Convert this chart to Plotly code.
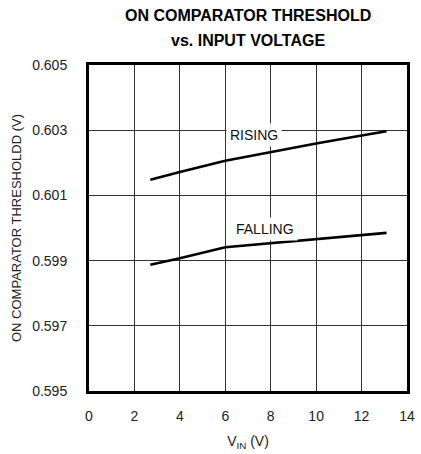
import plotly.graph_objects as go

# Input voltage sample points (V)
vin = [2.7, 4, 6, 8, 10, 12, 13.1]
# ON comparator threshold, rising and falling (V)
rising = [0.60148, 0.60172, 0.60206, 0.60233, 0.60259, 0.60284, 0.60297]
falling = [0.59887, 0.59907, 0.59941, 0.59953, 0.59966, 0.59977, 0.59985]

x_ticks = [0, 2, 4, 6, 8, 10, 12, 14]
y_ticks = [0.595, 0.597, 0.599, 0.601, 0.603, 0.605]
title_lines = ["ON COMPARATOR THRESHOLD", "vs. INPUT VOLTAGE"]

font_family = "Liberation Sans, Arial, sans-serif"

fig = go.Figure()
for ys in (rising, falling):
    fig.add_trace(go.Scatter(x=vin, y=ys, mode="lines",
                             line=dict(color="black", width=2.6),
                             showlegend=False, hoverinfo="skip"))

fig.add_annotation(x=7.25, y=0.60285, text="RISING", showarrow=False,
                   bgcolor="white", borderpad=3,
                   font=dict(size=14, color="#111", family=font_family))
fig.add_annotation(x=7.75, y=0.59998, text="FALLING", showarrow=False,
                   bgcolor="white", borderpad=3,
                   font=dict(size=14, color="#111", family=font_family))

# Two-line bold title above the frame
for line, shift in zip(title_lines, (50, 25)):
    fig.add_annotation(xref="paper", yref="paper", x=0.5, y=1, yshift=shift,
                       xanchor="center", yanchor="middle", showarrow=False,
                       text=f"<b>{line}</b>",
                       font=dict(size=16, color="black", family=font_family))

fig.update_layout(
    width=421, height=454,
    margin=dict(l=89, r=6, t=65, b=63),
    paper_bgcolor="white", plot_bgcolor="white",
    font=dict(family=font_family, color="#222", size=14),
    xaxis=dict(range=[0, 14], tickvals=x_ticks, ticktext=[str(v) for v in x_ticks],
               showgrid=True, gridcolor="#333", gridwidth=1,
               showline=True, linecolor="black", linewidth=3, mirror=True,
               ticks="outside", ticklen=10, tickcolor="rgba(0,0,0,0)",
               zeroline=False,
               title=dict(text="V<sub>IN</sub> (V)", standoff=14,
                          font=dict(size=14, color="#222"))),
    yaxis=dict(range=[0.595, 0.605], tickvals=y_ticks,
               ticktext=[f"{v:.3f}" for v in y_ticks],
               showgrid=True, gridcolor="#333", gridwidth=1,
               showline=True, linecolor="black", linewidth=3, mirror=True,
               ticks="outside", ticklen=16, tickcolor="rgba(0,0,0,0)",
               zeroline=False,
               title=dict(text="ON COMPARATOR THRESHOLDD (V)", standoff=8,
                          font=dict(size=13, color="#222"))),
)

fig.write_html("out.html")
